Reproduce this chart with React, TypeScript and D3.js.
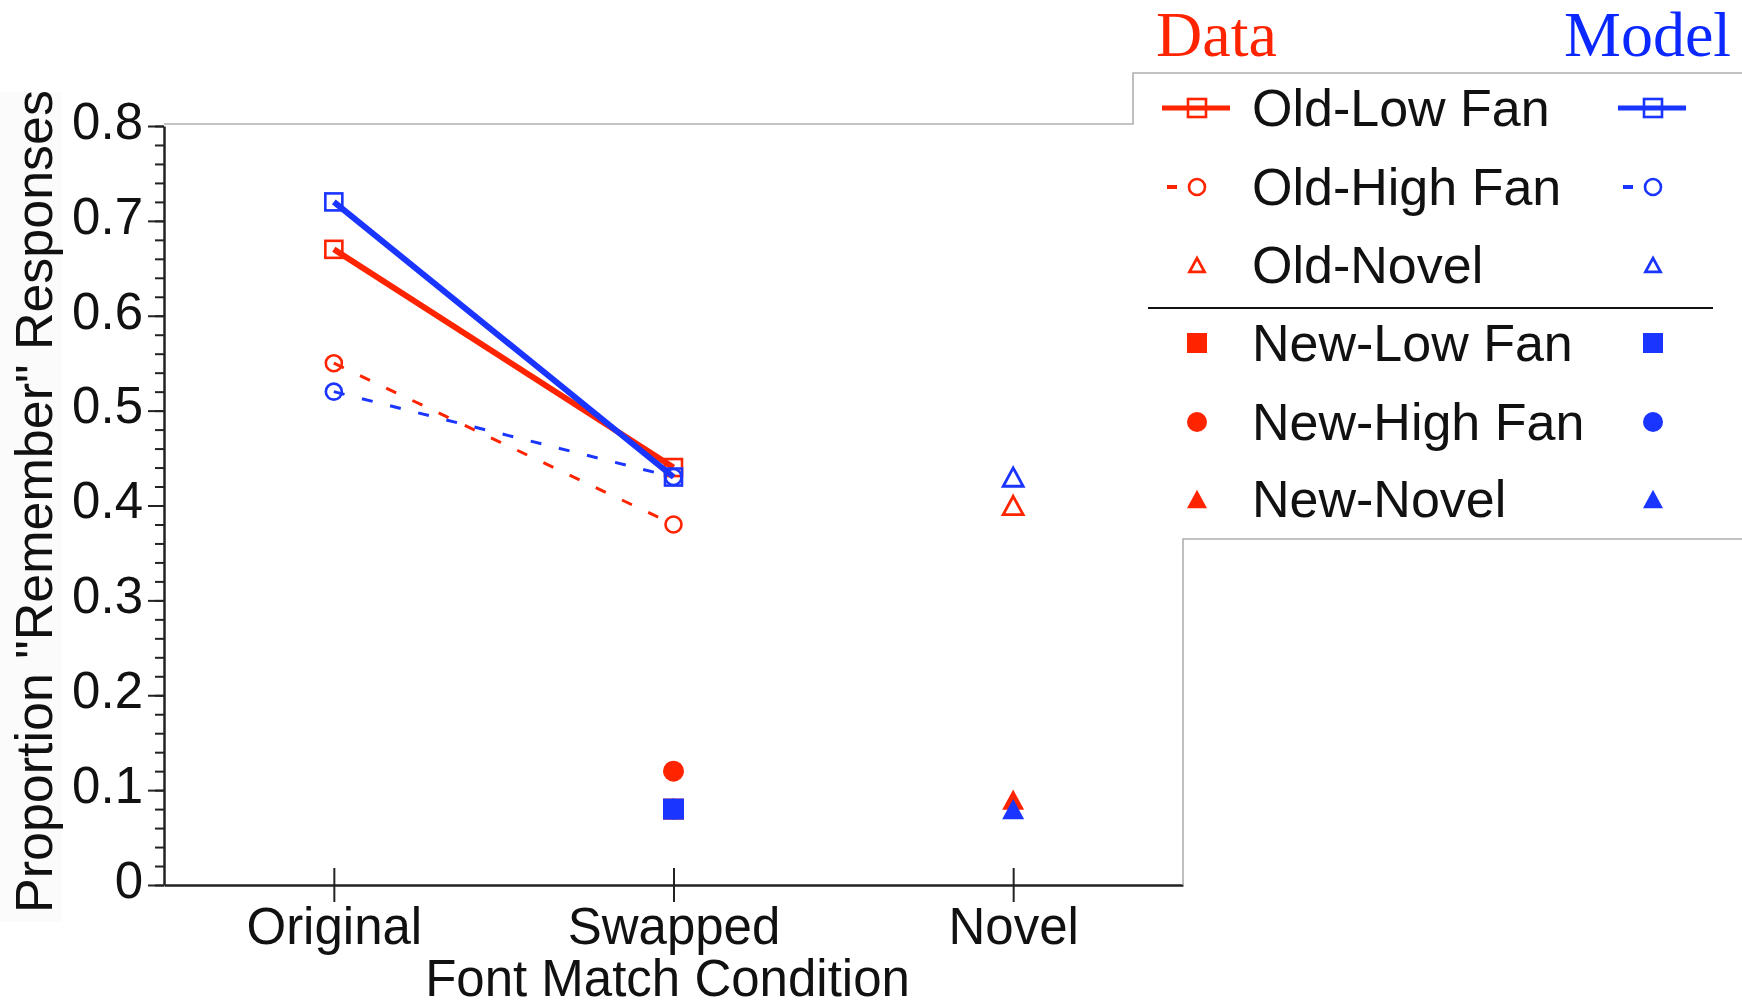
import React, { useEffect, useRef } from "react";
import * as d3 from "d3";

// categories on the x axis
const categories = ["Original", "Swapped", "Novel"];

// "Old" conditions, data (red) vs model (blue)
const oldLowCats = ["Original", "Swapped"];
const oldLowData = [0.67, 0.44];
const oldLowModel = [0.72, 0.43];

const oldHighCats = ["Original", "Swapped"];
const oldHighData = [0.55, 0.38];
const oldHighModel = [0.52, 0.43];

const oldNovelCats = ["Novel"];
const oldNovelData = [0.4];
const oldNovelModel = [0.43];

// "New" conditions
const newLowCats = ["Swapped"];
const newLowData = [0.08];
const newLowModel = [0.08];

const newHighCats = ["Swapped"];
const newHighData = [0.12];
const newHighModel = [0.08];

const newNovelCats = ["Novel"];
const newNovelData = [0.09];
const newNovelModel = [0.08];

const yMajor = [0, 0.1, 0.2, 0.3, 0.4, 0.5, 0.6, 0.7, 0.8];
const yMinor = d3.range(0, 0.801, 0.02);

const legendLabels = [
  "Old-Low Fan",
  "Old-High Fan",
  "Old-Novel",
  "New-Low Fan",
  "New-High Fan",
  "New-Novel",
];

const RED = "#ff2400";
const BLUE = "#1a35ff";
const FONT = "'Liberation Sans', Arial, Helvetica, sans-serif";

const W = 1742;
const H = 1005;

// draws one marker shape at (cx, cy)
function marker(g, shape, cx, cy, color, filled, s) {
  const h = s / 2;
  if (shape === "square") {
    g.append("rect")
      .attr("x", cx - h)
      .attr("y", cy - h)
      .attr("width", s)
      .attr("height", s)
      .attr("fill", filled ? color : "none")
      .attr("stroke", filled ? "none" : color)
      .attr("stroke-width", 2.6);
  } else if (shape === "circle") {
    g.append("circle")
      .attr("cx", cx)
      .attr("cy", cy)
      .attr("r", h)
      .attr("fill", filled ? color : "none")
      .attr("stroke", filled ? "none" : color)
      .attr("stroke-width", 2.6);
  } else {
    const th = s * 0.92;
    g.append("polygon")
      .attr(
        "points",
        `${cx},${cy - th / 2} ${cx + h},${cy + th / 2} ${cx - h},${cy + th / 2}`
      )
      .attr("fill", filled ? color : "none")
      .attr("stroke", filled ? "none" : color)
      .attr("stroke-width", 2.8)
      .attr("stroke-linejoin", "miter");
  }
}

const App = () => {
  const svgRef = useRef(null);

  useEffect(() => {
    const svg = d3.select(svgRef.current);
    svg.selectAll("*").remove();

    const left = 164;
    const right = 1183;
    const top = 126;
    const bottom = 885;

    const x = d3.scalePoint().domain(categories).range([left, right]).padding(0.5);
    const y = d3.scaleLinear().domain([0, 0.8]).range([bottom, top]);

    // faint background behind y title
    svg.append("rect")
      .attr("x", 0)
      .attr("y", 92)
      .attr("width", 62)
      .attr("height", 830)
      .attr("fill", "#fbfbfb");

    // y axis minor ticks
    svg.append("g")
      .attr("transform", `translate(${left},0)`)
      .call(d3.axisLeft(y).tickValues(yMinor).tickSize(9).tickFormat(() => ""))
      .call((g) => g.select(".domain").remove())
      .selectAll("line")
      .attr("stroke", "#222")
      .attr("stroke-width", 2);

    // y axis major ticks + labels
    const yAxisG = svg.append("g")
      .attr("transform", `translate(${left},0)`)
      .call(
        d3.axisLeft(y)
          .tickValues(yMajor)
          .tickSize(16)
          .tickSizeOuter(0)
          .tickPadding(5)
          .tickFormat((d) => (d === 0 ? "0" : d3.format(".1f")(d)))
      );
    yAxisG.select(".domain").attr("stroke", "#222").attr("stroke-width", 2.5);
    yAxisG.selectAll("line").attr("stroke", "#222").attr("stroke-width", 2);
    yAxisG.selectAll("text")
      .attr("font-family", FONT)
      .attr("font-size", 51)
      .attr("fill", "#111")
      .attr("dy", "0.24em");

    // x axis
    const xAxisG = svg.append("g")
      .attr("transform", `translate(0,${bottom})`)
      .call(d3.axisBottom(x).tickSize(17).tickSizeOuter(0).tickPadding(6));
    xAxisG.select(".domain").attr("stroke", "#222").attr("stroke-width", 2.5);
    xAxisG.selectAll("line").attr("stroke", "#222").attr("stroke-width", 2);
    xAxisG.selectAll("text")
      .attr("font-family", FONT)
      .attr("font-size", 51)
      .attr("fill", "#111");
    // upper half of the crossing ticks
    xAxisG.selectAll(".tick")
      .append("line")
      .attr("y1", 0)
      .attr("y2", -17)
      .attr("stroke", "#222")
      .attr("stroke-width", 2);

    // axis titles
    svg.append("text")
      .attr("x", (left + right) / 2 - 6)
      .attr("y", 996)
      .attr("text-anchor", "middle")
      .attr("font-family", FONT)
      .attr("font-size", 51)
      .attr("fill", "#111")
      .text("Font Match Condition");

    svg.append("text")
      .attr("transform", `translate(52,${(92 + 911) / 2}) rotate(-90)`)
      .attr("text-anchor", "middle")
      .attr("font-family", FONT)
      .attr("font-size", 52)
      .attr("fill", "#111")
      .text('Proportion "Remember" Responses');

    const plot = svg.append("g");

    const line = d3.line().x((d) => x(d.c)).y((d) => y(d.v));
    const pts = (cats, vals) => cats.map((c, i) => ({ c, v: vals[i] }));

    const series = [
      { cats: oldLowCats, d: oldLowData, m: oldLowModel, shape: "square", filled: false, dash: null, size: 17 },
      { cats: oldHighCats, d: oldHighData, m: oldHighModel, shape: "circle", filled: false, dash: "11 18", size: 16 },
      { cats: oldNovelCats, d: oldNovelData, m: oldNovelModel, shape: "triangle", filled: false, dash: null, size: 20 },
      { cats: newLowCats, d: newLowData, m: newLowModel, shape: "square", filled: true, dash: null, size: 21 },
      { cats: newHighCats, d: newHighData, m: newHighModel, shape: "circle", filled: true, dash: null, size: 21 },
      { cats: newNovelCats, d: newNovelData, m: newNovelModel, shape: "triangle", filled: true, dash: null, size: 22 },
    ];
    // plotting order: circles under squares so the hidden ones stay hidden
    const plotOrder = [0, 1, 2, 4, 3, 5];

    // red (data) first, then blue (model) on top
    [
      ["d", RED],
      ["m", BLUE],
    ].forEach(([key, color]) => {
      plotOrder.forEach((k) => {
        const s = series[k];
        const p = pts(s.cats, s[key]);
        if (p.length > 1) {
          plot.append("path")
            .attr("d", line(p))
            .attr("fill", "none")
            .attr("stroke", color)
            .attr("stroke-width", s.dash ? 3 : 6)
            .attr("stroke-dasharray", s.dash);
        }
        p.forEach((q) => marker(plot, s.shape, x(q.c), y(q.v), color, s.filled, s.size));
      });
    });

    // legend box + outline of plot frame
    const lg = svg.append("g");
    lg.append("rect")
      .attr("x", 1134)
      .attr("y", 74)
      .attr("width", W)
      .attr("height", 464)
      .attr("fill", "white");
    lg.append("path")
      .attr("d", `M${left},${top - 2} H1133 V73 H${W + 5} M${W + 5},539 H${right} V${bottom}`)
      .attr("fill", "none")
      .attr("stroke", "#b0b0b0")
      .attr("stroke-width", 1.6);

    lg.append("text")
      .attr("x", 1156)
      .attr("y", 56)
      .attr("font-family", "'Liberation Serif', 'Times New Roman', serif")
      .attr("font-size", 64)
      .attr("fill", RED)
      .text("Data");
    lg.append("text")
      .attr("x", 1564)
      .attr("y", 56)
      .attr("font-family", "'Liberation Serif', 'Times New Roman', serif")
      .attr("font-size", 64)
      .attr("fill", "#0a28ff")
      .text("Model");

    const rowY = [108, 187, 265, 343, 422, 499];
    const legendSize = [18, 16, 15, 20, 20, 20];
    const cols = [
      [1197, RED],
      [1653, BLUE],
    ];

    series.forEach((s, i) => {
      const yy = rowY[i];
      lg.append("text")
        .attr("x", 1252)
        .attr("y", yy + 18)
        .attr("font-family", FONT)
        .attr("font-size", 52)
        .attr("fill", "#111")
        .text(legendLabels[i]);
      cols.forEach(([cx, color]) => {
        if (i === 0) {
          lg.append("line")
            .attr("x1", cx - 35)
            .attr("x2", cx + 33)
            .attr("y1", yy)
            .attr("y2", yy)
            .attr("stroke", color)
            .attr("stroke-width", 5);
        }
        if (i === 1) {
          lg.append("line")
            .attr("x1", cx - 30)
            .attr("x2", cx - 20)
            .attr("y1", yy)
            .attr("y2", yy)
            .attr("stroke", color)
            .attr("stroke-width", 4);
        }
        marker(lg, s.shape, cx, yy, color, s.filled, legendSize[i]);
      });
    });

    // separator between old and new items
    lg.append("line")
      .attr("x1", 1148)
      .attr("x2", 1713)
      .attr("y1", 308)
      .attr("y2", 308)
      .attr("stroke", "#111")
      .attr("stroke-width", 2);
  }, []);

  return (
    <div style={{ position: "absolute", left: 0, top: 0, background: "white" }}>
      <svg ref={svgRef} width={W} height={H} style={{ display: "block" }} />
    </div>
  );
};

export default App;
